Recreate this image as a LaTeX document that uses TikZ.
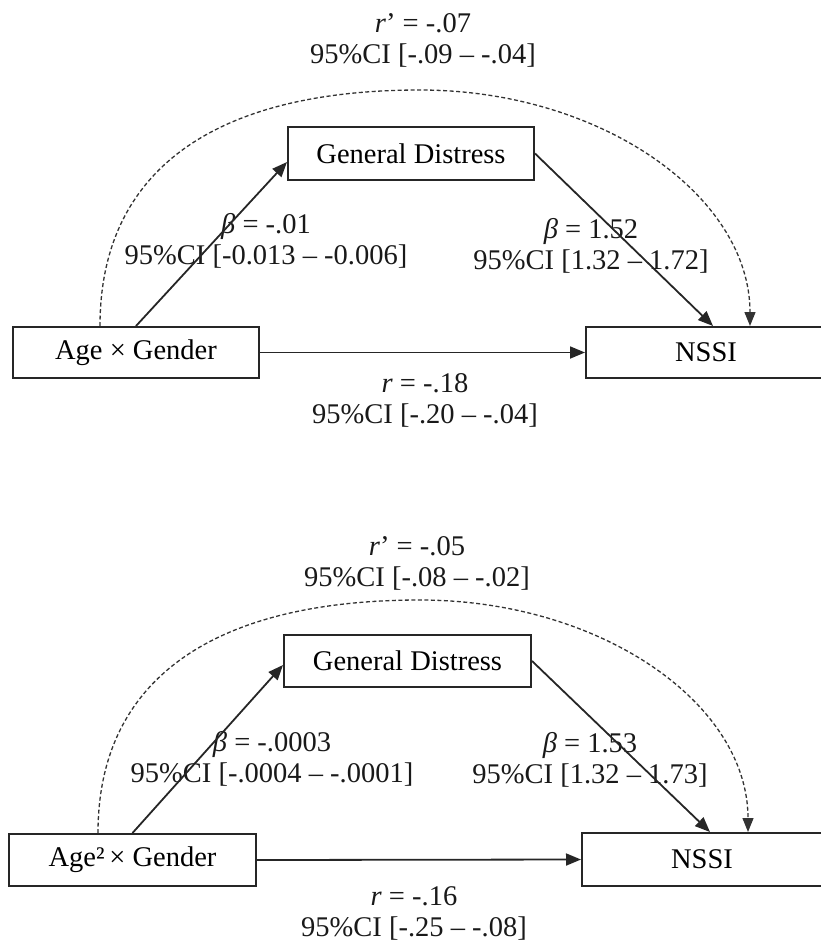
\documentclass[tikz,border=0pt]{standalone}
\usepackage{fontspec}
\setmainfont{Liberation Serif}
\usetikzlibrary{arrows.meta}
\tikzset{
  box/.style={draw=black!85, line width=2pt, inner sep=0pt, font=\fontsize{28.5}{31}\selectfont},
  lbl/.style={align=center, inner sep=0pt, font=\fontsize{28.5}{31}\selectfont, text=black!90},
  arr/.style={line width=1.8pt, draw=black!85, -{Triangle[length=15pt,width=12pt]}},
  darr/.style={line width=1.3pt, draw=black!80, dash pattern=on 4pt off 2.5pt, -{Triangle[length=14pt,width=11pt]}}
}
\begin{document}
\begin{tikzpicture}[x=1pt,y=-1pt]
\useasboundingbox (0,0) rectangle (820,945);
% ---------- top panel ----------
\node[box, minimum width=246pt, minimum height=51pt] (ag) at (136,352.5) {Age × Gender};
\node[box, minimum width=246pt, minimum height=53pt] (gd) at (411,153.5) {General Distress};
\node[box, minimum width=240pt, minimum height=51pt] (ns) at (706,352.5) {NSSI};
\coordinate (peak1) at (420,90);

\node[lbl] (lrp1) at (423,40.5) {\textit{r}’ = -.07\\95\%CI [-.09 – -.04]};
\node[lbl] (lb1) at (266,241) {\textit{β} = -.01\\95\%CI [-0.013 – -0.006]};
\node[lbl] (lb2) at (591,245.5) {\textit{β} = 1.52\\95\%CI [1.32 – 1.72]};
\node[lbl] (lr1) at (425,400.5) {\textit{r} = -.18\\95\%CI [-.20 – -.04]};

\draw[arr] (ag.north) -- ([yshift=-8.5pt]gd.west);
\draw[arr] (gd.east) -- ([xshift=7pt]ns.north);
\draw[arr] (ag.east) -- (ns.west);
\draw[darr] ([xshift=-36pt]ag.north) .. controls +(0,-154) and +(-208,0) .. (peak1)
  .. controls +(181,0) and +(0,-130) .. ([xshift=44pt]ns.north);

% ---------- bottom panel ----------
\node[box, minimum width=247pt, minimum height=52pt] (ag2) at (132.5,860) {Age²\,× Gender};
\node[box, minimum width=247pt, minimum height=52pt] (gd2) at (407.5,661) {General Distress};
\node[box, minimum width=240pt, minimum height=53pt] (ns2) at (702,859.5) {NSSI};
\coordinate (peak2) at (420,600);

\node[lbl] (lrp2) at (417,563) {\textit{r}’ = -.05\\95\%CI [-.08 – -.02]};
\node[lbl] (lb3) at (272,759) {\textit{β} = -.0003\\95\%CI [-.0004 – -.0001]};
\node[lbl] (lb4) at (590,760) {\textit{β} = 1.53\\95\%CI [1.32 – 1.73]};
\node[lbl] (lr2) at (414,913) {\textit{r} = -.16\\95\%CI [-.25 – -.08]};

\draw[arr] (ag2.north) -- ([yshift=-4pt]gd2.west);
\draw[arr] (gd2.east) -- ([xshift=8pt]ns2.north);
\draw[arr] (ag2.east) -- (ns2.west);
\draw[darr] ([xshift=-34.5pt]ag2.north) .. controls +(0,-152) and +(-209,0) .. (peak2)
  .. controls +(180,0) and +(0,-129) .. ([xshift=46pt]ns2.north);
\end{tikzpicture}
\end{document}
